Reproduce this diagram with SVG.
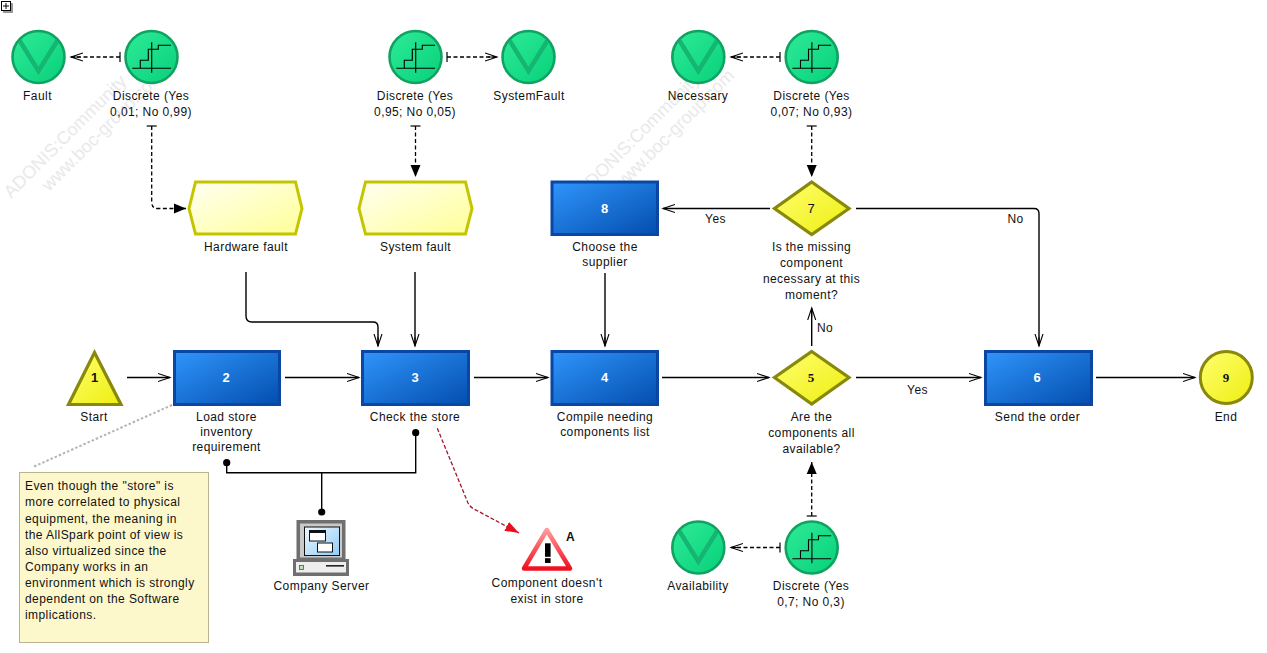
<svg xmlns="http://www.w3.org/2000/svg" width="1267" height="653" viewBox="0 0 1267 653">
<style>
text{font-family:"Liberation Sans",Arial,sans-serif;font-size:12px;fill:#111;letter-spacing:.42px}
.l{text-anchor:middle}
.wm{font-size:18px;fill:#e9e9e9;letter-spacing:0}
.nw{text-anchor:middle;font-weight:bold;fill:#fff;font-size:13px;letter-spacing:0}
.nb{text-anchor:middle;font-size:13px;fill:#111;letter-spacing:0}
.ns{font-family:"Liberation Serif",serif;font-weight:bold}
.nbb{font-weight:bold}
.box{fill:url(#blue);stroke:#0a46a4;stroke-width:3}
.dec{fill:url(#yel);stroke:#88880a;stroke-width:3.2;stroke-linejoin:miter}
.hex{fill:url(#pale);stroke:#c4c400;stroke-width:3}
.c{fill:none;stroke:#000;stroke-width:1.4}
.d{fill:none;stroke:#000;stroke-width:1.3;stroke-dasharray:4 2.5}
</style>
<defs>
<linearGradient id="blue" x1="0" y1="0" x2="1" y2="1"><stop offset="0" stop-color="#3095fb"/><stop offset="1" stop-color="#034eae"/></linearGradient>
<linearGradient id="yel" x1="0" y1="0" x2="1" y2="1"><stop offset="0" stop-color="#ffff70"/><stop offset="1" stop-color="#eeee10"/></linearGradient>
<linearGradient id="pale" x1="0" y1="0" x2="1" y2="1"><stop offset="0" stop-color="#fffff2"/><stop offset="1" stop-color="#ffff98"/></linearGradient>
<linearGradient id="grn" x1="0" y1="0" x2="1" y2="1"><stop offset="0" stop-color="#2eeb98"/><stop offset="1" stop-color="#08d07a"/></linearGradient>
<linearGradient id="scr" x1="0" y1="0" x2="1" y2="1"><stop offset="0" stop-color="#eef7ff"/><stop offset="1" stop-color="#8fcdf5"/></linearGradient>
<linearGradient id="rd" x1="0" y1="0" x2="0" y2="1"><stop offset="0" stop-color="#ff9a9a"/><stop offset="1" stop-color="#f01020"/></linearGradient>
<clipPath id="cc"><circle r="25"/></clipPath>
<g id="var"><circle r="26" fill="url(#grn)" stroke="#0fa261" stroke-width="2.6"/><path d="M-23,-23 L0,14 L23,-23" fill="none" stroke="#14b672" stroke-width="4.5" clip-path="url(#cc)"/></g>
<g id="dist"><circle r="26" fill="url(#grn)" stroke="#0fa261" stroke-width="2.6"/><path d="M-19.3,11.3H19.5M0.2,-14.7V15.7M-11.2,11.3V3.3H-3.2V-7.7H6.8V-11.7H19.5" fill="none" stroke="#000" stroke-width="1.1"/></g>
<marker id="open" markerUnits="userSpaceOnUse" markerWidth="14" markerHeight="12" refX="12" refY="6" orient="auto"><path d="M0,2 L12,6 L0,10 M3,6H12" fill="none" stroke="#000" stroke-width="1.1"/></marker>
<marker id="fill" markerUnits="userSpaceOnUse" markerWidth="14" markerHeight="12" refX="12" refY="6" orient="auto"><path d="M0,1 L12,6 L0,11Z" fill="#000"/></marker>
<marker id="red" markerUnits="userSpaceOnUse" markerWidth="16" markerHeight="12" refX="14" refY="6" orient="auto"><path d="M0,1 L14,6 L0,11Z" fill="#e8101c"/></marker>
<marker id="bar" markerUnits="userSpaceOnUse" markerWidth="4" markerHeight="12" refX="1" refY="6" orient="auto"><path d="M1,1V11" fill="none" stroke="#000" stroke-width="1.2"/></marker>
<marker id="dot" markerUnits="userSpaceOnUse" markerWidth="10" markerHeight="10" refX="5" refY="5" orient="auto"><circle cx="5" cy="5" r="3.6" fill="#000"/></marker>
</defs>
<rect width="1267" height="653" fill="#fff"/>
<g id="watermark">
<text class="wm" transform="translate(11,199) rotate(-45)">ADONIS:Community</text>
<text class="wm" transform="translate(49,192) rotate(-45)">www.boc-group.com</text>
<text class="wm" transform="translate(584,197) rotate(-45)">ADONIS:Community</text>
<text class="wm" transform="translate(620,192) rotate(-45)">www.boc-group.com</text>
</g>
<g id="expand"><rect x="3" y="3" width="10" height="10" fill="#999"/><rect x="1.5" y="1.5" width="9" height="9" fill="#fff" stroke="#000"/><path d="M3,6H9M6,3V9" stroke="#000" stroke-width="1"/></g>
<g id="connectors">
<path class="c" marker-end="url(#open)" d="M127,377.5H170"/>
<path class="c" marker-end="url(#open)" d="M285,377.500H359"/>
<path class="c" marker-end="url(#open)" d="M474,377.500H548"/>
<path class="c" marker-end="url(#open)" d="M662,377.500H769"/>
<path class="c" marker-end="url(#open)" d="M856,377.500H981"/>
<path class="c" marker-end="url(#open)" d="M1096,377.500H1195"/>
<path class="c" marker-end="url(#open)" d="M770,208.500H663"/>
<path class="c" marker-end="url(#open)" d="M856,208.500H1034Q1039,208.500 1039,213.500V346"/>
<path class="c" marker-end="url(#open)" d="M811.700,346V308"/>
<path class="c" marker-end="url(#open)" d="M605,273V346"/>
<path class="c" marker-end="url(#open)" d="M415,272V346"/>
<path class="c" marker-end="url(#open)" d="M246,272V316Q246,322 252,322H373Q378,322 378,327V346"/>
<path class="d" marker-start="url(#bar)" marker-end="url(#open)" d="M120,57H71"/>
<path class="d" marker-start="url(#bar)" marker-end="url(#open)" d="M447,57H497"/>
<path class="d" marker-start="url(#bar)" marker-end="url(#open)" d="M780,57H731"/>
<path class="d" marker-start="url(#bar)" marker-end="url(#open)" d="M780,547.500H731"/>
<path class="d" marker-start="url(#bar)" marker-end="url(#fill)" d="M151.700,126V202Q151.700,208.500 158,208.500H186"/>
<path class="d" marker-start="url(#bar)" marker-end="url(#fill)" d="M415.500,126V177"/>
<path class="d" marker-start="url(#bar)" marker-end="url(#fill)" d="M811.700,126V177"/>
<path class="d" marker-start="url(#bar)" marker-end="url(#fill)" d="M811.700,516V462"/>
<path class="c" marker-start="url(#dot)" marker-end="url(#dot)" d="M415.700,432.700V472.700H226.700V462.700"/>
<path class="c" marker-end="url(#dot)" d="M321.700,472.700V512"/>
<path d="M437.300,428.300L468,503Q470,507 474,509L519,533" fill="none" stroke="#a01830" stroke-width="1.3" stroke-dasharray="4 2" marker-end="url(#red)"/>
<path d="M172,405L33,467" fill="none" stroke="#b4b4b4" stroke-width="2" stroke-dasharray="2.500 2"/>
</g>
<g id="fault"><use href="#var" x="38.500" y="57"/><text class="l" x="37.500" y="100">Fault</text></g>
<g id="discrete1"><use href="#dist" x="151.500" y="57"/><text class="l" x="151" y="100">Discrete (Yes</text><text class="l" x="151" y="116">0,01; No 0,99)</text></g>
<g id="discrete2"><use href="#dist" x="415.500" y="57"/><text class="l" x="415" y="100">Discrete (Yes</text><text class="l" x="415" y="116">0,95; No 0,05)</text></g>
<g id="systemfaultvar"><use href="#var" x="528.500" y="57"/><text class="l" x="529" y="100">SystemFault</text></g>
<g id="necessary"><use href="#var" x="698.300" y="57"/><text class="l" x="698" y="100">Necessary</text></g>
<g id="discrete3"><use href="#dist" x="811.700" y="57"/><text class="l" x="811.500" y="100">Discrete (Yes</text><text class="l" x="811.500" y="116">0,07; No 0,93)</text></g>
<g id="hardwarefault"><path class="hex" d="M195.500,182H295.500L302,208.500L295.500,234H195.500L189,208.500Z"/><text class="l" x="246" y="251">Hardware fault</text></g>
<g id="systemfault"><path class="hex" d="M365.500,182H465.500L472,208.500L465.500,234H365.500L359,208.500Z"/><text class="l" x="415.500" y="251">System fault</text></g>
<g id="n8"><rect class="box" x="552" y="182" width="105.500" height="52.500"/><text class="nw" x="604.500" y="213">8</text><text class="l" x="605" y="251">Choose the</text><text class="l" x="605" y="266">supplier</text></g>
<g id="n7"><path class="dec" d="M811.700,182L849,208.500L811.700,234.500L774.500,208.500Z"/><text class="nb" x="811" y="213">7</text><text class="l" x="811.500" y="251">Is the missing</text><text class="l" x="811.500" y="267">component</text><text class="l" x="811.500" y="283">necessary at this</text><text class="l" x="811.500" y="299">moment?</text></g>
<g id="n1"><path class="dec" d="M94.500,352.500L121,404.500H68.500Z"/><text class="nb nbb" x="94.500" y="382">1</text><text class="l" x="94" y="421">Start</text></g>
<g id="n2"><rect class="box" x="174.500" y="351.500" width="105" height="53"/><text class="nw" x="226" y="382">2</text><text class="l" x="226.500" y="421">Load store</text><text class="l" x="226.500" y="436">inventory</text><text class="l" x="226.500" y="451">requirement</text></g>
<g id="n3"><rect class="box" x="362.500" y="351.500" width="106" height="53"/><text class="nw" x="415" y="382">3</text><text class="l" x="415" y="421">Check the store</text></g>
<g id="n4"><rect class="box" x="552" y="351.500" width="105.500" height="53"/><text class="nw" x="604.500" y="382">4</text><text class="l" x="605" y="421">Compile needing</text><text class="l" x="605" y="436">components list</text></g>
<g id="n5"><path class="dec" d="M811.700,351.500L849,377.500L811.700,404L774.500,377.500Z"/><text class="nb ns" x="811" y="382">5</text><text class="l" x="811.500" y="421">Are the</text><text class="l" x="811.500" y="437">components all</text><text class="l" x="811.500" y="453">available?</text></g>
<g id="n6"><rect class="box" x="985.500" y="351.500" width="106" height="53"/><text class="nw" x="1037" y="382">6</text><text class="l" x="1037.500" y="421">Send the order</text></g>
<g id="n9"><circle cx="1226.300" cy="377.500" r="26" fill="url(#yel)" stroke="#88880a" stroke-width="3"/><text class="nb ns" x="1226" y="382">9</text><text class="l" x="1226" y="421">End</text></g>
<g id="availability"><use href="#var" x="698.300" y="547.500"/><text class="l" x="698" y="590">Availability</text></g>
<g id="discrete4"><use href="#dist" x="811.700" y="547.500"/><text class="l" x="811" y="590">Discrete (Yes</text><text class="l" x="811" y="606">0,7; No 0,3)</text></g>
<g id="edge-labels"><text class="l" x="715.500" y="223">Yes</text><text class="l" x="1015.500" y="223">No</text><text class="l" x="917.500" y="394">Yes</text><text class="l" x="825" y="332">No</text></g>
<g id="note"><rect x="19.500" y="472.500" width="189" height="170" fill="#fdf8cc" stroke="#b9b48f"/>
<text x="25" y="490">Even though the "store" is</text><text x="25" y="506">more correlated to physical</text><text x="25" y="522.500">equipment, the meaning in</text><text x="25" y="538.500">the AllSpark point of view is</text><text x="25" y="554.500">also virtualized since the</text><text x="25" y="571">Company works in an</text><text x="25" y="587">environment which is strongly</text><text x="25" y="603">dependent on the Software</text><text x="25" y="619">implications.</text></g>
<g id="server"><rect x="296.500" y="520" width="49" height="40" fill="#6f6f6f"/><rect x="300" y="523.500" width="42" height="34" fill="#c9c9c9"/><rect x="304.500" y="527" width="35" height="28.500" fill="url(#scr)" stroke="#111"/>
<rect x="309.500" y="530.500" width="16" height="10.500" fill="#fff" stroke="#111"/><rect x="309.500" y="530.500" width="16" height="2.500" fill="#111"/><rect x="317.500" y="543" width="15" height="9" fill="#fff" stroke="#111"/>
<rect x="293" y="559" width="56" height="17" fill="#6f6f6f"/><rect x="296" y="562" width="50" height="10.500" fill="#eee"/><rect x="299.500" y="565.500" width="4" height="4" fill="#bde6b5" stroke="#2a6a40" stroke-width=".8"/><rect x="326" y="565" width="18" height="1.600" fill="#222"/>
<text class="l" x="321.500" y="590">Company Server</text></g>
<g id="risk"><path d="M546.800,530L570,568.500H524Z" fill="#fff" stroke="url(#rd)" stroke-width="4.500" stroke-linejoin="round"/><rect x="545" y="543.300" width="5.600" height="13.500" fill="#000"/><rect x="545" y="558.200" width="5.600" height="4.800" fill="#000"/><text x="566" y="541" style="font-weight:bold;letter-spacing:0">A</text><text class="l" x="547" y="586.500">Component doesn't</text><text class="l" x="547" y="603">exist in store</text></g>
</svg>
